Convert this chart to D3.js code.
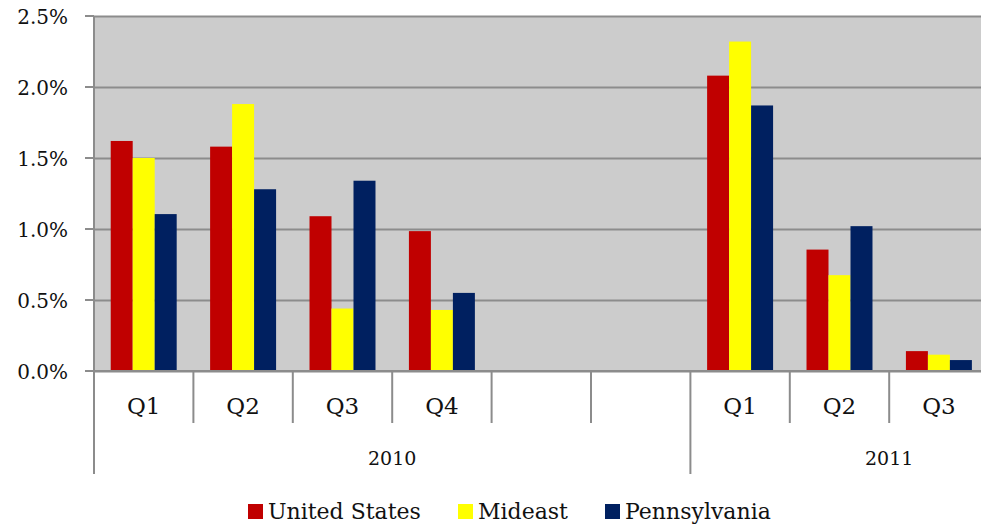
<!doctype html>
<html>
<head>
<meta charset="utf-8">
<script src="https://d3js.org/d3.v7.min.js"></script>
<style>
  body { margin: 0; background: #fff; }
  svg { display: block; }
  text { font-family: "DejaVu Serif", "Liberation Serif", serif; fill: #111; }
</style>
</head>
<body>
<script>
// quarters along the axis (two empty slots in 2010, Q4 2011 falls off the right edge)
var quarters = ["Q1", "Q2", "Q3", "Q4", "", "", "Q1", "Q2", "Q3", "Q4"];
var years = ["2010", "2010", "2010", "2010", "2010", "2010", "2011", "2011", "2011", "2011"];
var seriesNames = ["United States", "Mideast", "Pennsylvania"];
var unitedStates = [1.62, 1.58, 1.09, 0.985, null, null, 2.08, 0.855, 0.14, null];
var mideast      = [1.50, 1.88, 0.44, 0.43, null, null, 2.32, 0.675, 0.115, null];
var pennsylvania = [1.105, 1.28, 1.34, 0.55, null, null, 1.87, 1.02, 0.077, null];
var yTicks = [0, 0.5, 1.0, 1.5, 2.0, 2.5];

var W = 981, H = 524;
var pLeft = 94, pRight = 1088, pTop = 16, pBottom = 371;
var colors = ["#c00000", "#ffff00", "#002060"];
var grid = "#8c8c8c";

var svg = d3.select("body").append("svg")
    .attr("width", W)
    .attr("height", H);

var keys = quarters.map(function(q, i) { return i; });
var x0 = d3.scaleBand().domain(keys).range([pLeft, pRight]).padding(0);
var x1 = d3.scaleBand().domain([0, 1, 2]).range([0, x0.bandwidth()])
    .paddingInner(0).paddingOuter(0.76);
var y = d3.scaleLinear().domain([0, 2.5]).range([pBottom, pTop]);

// plot background
svg.append("rect")
    .attr("x", pLeft).attr("y", pTop)
    .attr("width", pRight - pLeft).attr("height", pBottom - pTop)
    .attr("fill", "#cccccc");

// gridlines + y axis
var yAxis = d3.axisLeft(y)
    .tickValues(yTicks)
    .tickSize(-(pRight - pLeft))
    .tickFormat(function(d) { return d3.format(".1f")(d) + "%"; });
var ya = svg.append("g")
    .attr("transform", "translate(" + pLeft + ",0)")
    .call(yAxis);
ya.select(".domain").remove();
ya.selectAll(".tick line").attr("stroke", grid).attr("stroke-width", 2);
ya.selectAll(".tick text")
    .attr("x", -26)
    .attr("font-size", 20)
    .attr("dy", "0.35em")
    .style("font-family", "\"DejaVu Serif\", serif")
    .style("fill", "#111");
// little outside tick stubs
svg.selectAll(".ystub").data(yTicks).enter().append("line")
    .attr("x1", pLeft - 9).attr("x2", pLeft)
    .attr("y1", function(d) { return y(d); }).attr("y2", function(d) { return y(d); })
    .attr("stroke", grid).attr("stroke-width", 2);

// left border
svg.append("line")
    .attr("x1", pLeft).attr("x2", pLeft).attr("y1", pTop).attr("y2", 474)
    .attr("stroke", grid).attr("stroke-width", 2);

// bars
var series = [unitedStates, mideast, pennsylvania];
series.forEach(function(vals, s) {
    svg.append("g").selectAll("rect")
        .data(vals.map(function(v, i) { return { i: i, v: v }; })
            .filter(function(d) { return d.v !== null; }))
        .enter().append("rect")
        .attr("x", function(d) { return x0(d.i) + x1(s); })
        .attr("width", x1.bandwidth())
        .attr("y", function(d) { return y(d.v); })
        .attr("height", function(d) { return y(0) - y(d.v); })
        .attr("fill", colors[s]);
});

// x axis line
svg.append("line")
    .attr("x1", pLeft - 9).attr("x2", pRight).attr("y1", pBottom).attr("y2", pBottom)
    .attr("stroke", grid).attr("stroke-width", 2);

// category separators
svg.selectAll(".sep").data(keys.slice(1)).enter().append("line")
    .attr("x1", function(d) { return x0(d); }).attr("x2", function(d) { return x0(d); })
    .attr("y1", pBottom).attr("y2", function(d) { return years[d] !== years[d - 1] ? 474 : 423; })
    .attr("stroke", grid).attr("stroke-width", 2);

// quarter labels (only the ones inside the visible area)
svg.selectAll(".ql")
    .data(keys.filter(function(d) { return x0(d) + x0.bandwidth() / 2 < W; }))
    .enter().append("text")
    .attr("x", function(d) { return x0(d) + x0.bandwidth() / 2; })
    .attr("y", 414)
    .attr("text-anchor", "middle")
    .attr("font-size", 23)
    .text(function(d) { return quarters[d]; });

// year labels
var yearGroups = d3.groups(keys, function(d) { return years[d]; });
svg.selectAll(".yl").data(yearGroups).enter().append("text")
    .attr("x", function(d) {
        var a = d[1][0], b = d[1][d[1].length - 1];
        return (x0(a) + x0(b) + x0.bandwidth()) / 2;
    })
    .attr("y", 465)
    .attr("text-anchor", "middle")
    .attr("font-size", 19)
    .text(function(d) { return d[0]; });

// legend
var legX = [248, 458, 605];
var leg = svg.selectAll(".leg").data(seriesNames).enter().append("g")
    .attr("transform", function(d, i) { return "translate(" + legX[i] + ",504)"; });
leg.append("rect").attr("width", 15).attr("height", 15)
    .attr("fill", function(d, i) { return colors[i]; });
leg.append("text")
    .attr("x", 20).attr("y", 15)
    .attr("font-size", 22)
    .text(function(d) { return d; });
</script>
</body>
</html>
